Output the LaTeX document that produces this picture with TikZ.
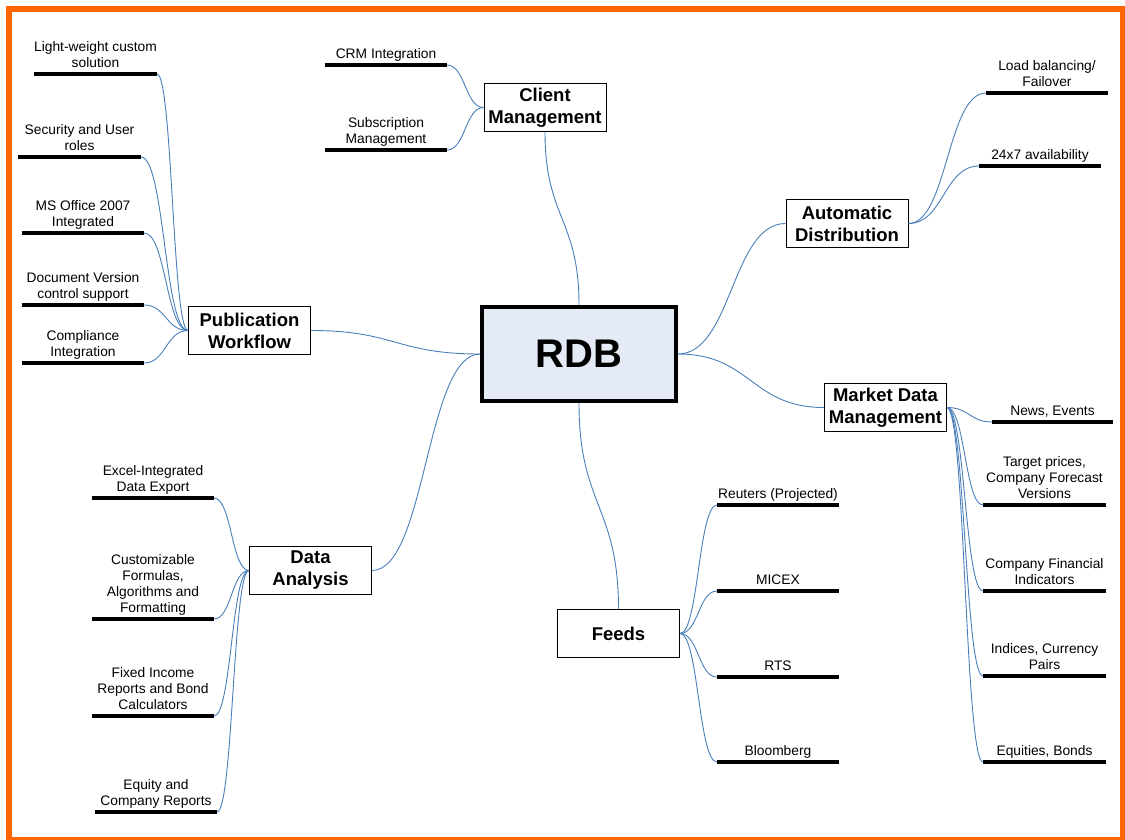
\documentclass[tikz,border=0pt]{standalone}
\usepackage{fontspec}
\setmainfont{Liberation Sans}
\usetikzlibrary{calc}
\definecolor{frameorange}{HTML}{FF6600}
\definecolor{connblue}{HTML}{4A7EBB}
\definecolor{rdbfill}{HTML}{E4EAF6}
\tikzset{
  leafline/.style={line width=3.5pt, black},
  leaftxt/.style={anchor=south, inner sep=0pt, align=center, yshift=1.4pt,
    font=\fontsize{13.8}{16}\selectfont},
  hub/.style={draw=black, line width=1pt, minimum width=122pt, minimum height=48pt,
    inner sep=0pt, align=center, font=\bfseries\fontsize{18.5}{22}\selectfont},
  rdbbox/.style={draw=black, line width=4pt, fill=rdbfill, minimum width=194pt,
    minimum height=94pt, inner sep=0pt, font=\bfseries\fontsize{40}{46}\selectfont},
  conn/.style={draw=connblue, line width=0.9pt},
  hc/.style={to path={let \p1=(\tikztostart), \p2=(\tikztotarget) in
    .. controls ({0.5*\x1+0.5*\x2},\y1) and ({0.5*\x1+0.5*\x2},\y2) .. (\tikztotarget)}},
  vc/.style={to path={let \p1=(\tikztostart), \p2=(\tikztotarget) in
    .. controls (\x1,{0.5*\y1+0.5*\y2}) and (\x2,{0.5*\y1+0.5*\y2}) .. (\tikztotarget)}}
}
\newcommand{\mmleaf}[5]{%
  \coordinate (#1a) at (#2,#4);
  \coordinate (#1b) at (#3,#4);
  \draw[leafline] (#1a) -- (#1b);
  \node[leaftxt] (#1t) at ($(#1a)!0.5!(#1b)$) {#5\strut};
}
\begin{document}
\begin{tikzpicture}[x=1pt,y=-1pt]
\useasboundingbox (0,0) rectangle (1125,839);
\draw[frameorange, line width=6pt] (9,9) rectangle (1123,840);

% central node
\node[rdbbox] (rdb) at (579,354) {RDB};

% hubs
\node[hub] (cm) at (545,107.5) {Client\\Management};
\node[hub] (ad) at (847,223.5) {Automatic\\Distribution};
\node[hub] (md) at (885.5,407.5) {Market Data\\Management};
\node[hub] (fd) at (618.5,633.5) {Feeds};
\node[hub] (da) at (310.5,570.5) {Data\\Analysis};
\node[hub] (pw) at (249.5,330.5) {Publication\\Workflow};

% hub to centre
\draw[conn] (cm.south) to[vc] (rdb.north);
\draw[conn] (fd.north) to[vc] (rdb.south);
\draw[conn] (rdb.east) to[hc] (ad.west);
\draw[conn] (rdb.east) to[hc] (md.west);
\draw[conn] (da.east) to[hc] (rdb.west);
\draw[conn] (pw.east) to[hc] (rdb.west);

% Client Management leaves
\mmleaf{crm}{325}{447}{65}{CRM Integration}
\mmleaf{sub}{325}{447}{150}{Subscription\\Management}
\draw[conn] (crmb) to[hc] (cm.west);
\draw[conn] (subb) to[hc] (cm.west);

% Automatic Distribution leaves
\mmleaf{lbf}{986}{1108}{93}{Load balancing/\\Failover}
\mmleaf{avl}{979}{1101}{166}{24x7 availability}
\draw[conn] (ad.east) to[hc] (lbfa);
\draw[conn] (ad.east) to[hc] (avla);

% Market Data Management leaves
\mmleaf{nev}{992}{1113}{422}{News, Events}
\mmleaf{tpc}{983}{1106}{505}{Target prices,\\Company Forecast\\Versions}
\mmleaf{cfi}{983}{1106}{591}{Company Financial\\Indicators}
\mmleaf{icp}{983}{1106}{676}{Indices, Currency\\Pairs}
\mmleaf{eqb}{983}{1106}{762}{Equities, Bonds}
\draw[conn] (md.east) to[hc] (neva);
\draw[conn] (md.east) to[hc] (tpca);
\draw[conn] (md.east) to[hc] (cfia);
\draw[conn] (md.east) to[hc] (icpa);
\draw[conn] (md.east) to[hc] (eqba);

% Feeds leaves
\mmleaf{rtr}{717}{839}{505}{Reuters (Projected)}
\mmleaf{mcx}{717}{839}{591}{MICEX}
\mmleaf{rts}{717}{839}{677}{RTS}
\mmleaf{blb}{717}{839}{762}{Bloomberg}
\draw[conn] (fd.east) to[hc] (rtra);
\draw[conn] (fd.east) to[hc] (mcxa);
\draw[conn] (fd.east) to[hc] (rtsa);
\draw[conn] (fd.east) to[hc] (blba);

% Data Analysis leaves
\mmleaf{xls}{92}{214}{498}{Excel-Integrated\\Data Export}
\mmleaf{cus}{92}{214}{619}{Customizable\\Formulas,\\Algorithms and\\Formatting}
\mmleaf{fir}{92}{214}{716}{Fixed Income\\Reports and Bond\\Calculators}
\mmleaf{ecr}{95}{217}{812}{Equity and\\Company Reports}
\draw[conn] (xlsb) to[hc] (da.west);
\draw[conn] (cusb) to[hc] (da.west);
\draw[conn] (firb) to[hc] (da.west);
\draw[conn] (ecrb) to[hc] (da.west);

% Publication Workflow leaves
\mmleaf{lwc}{34}{157}{74}{Light-weight custom\\solution}
\mmleaf{sur}{18}{141}{157}{Security and User\\roles}
\mmleaf{mso}{22}{144}{233}{MS Office 2007\\Integrated}
\mmleaf{dvc}{22}{144}{305}{Document Version\\control support}
\mmleaf{cpi}{22}{144}{363}{Compliance\\Integration}
\draw[conn] (lwcb) to[hc] (pw.west);
\draw[conn] (surb) to[hc] (pw.west);
\draw[conn] (msob) to[hc] (pw.west);
\draw[conn] (dvcb) to[hc] (pw.west);
\draw[conn] (cpib) to[hc] (pw.west);
\end{tikzpicture}
\end{document}
